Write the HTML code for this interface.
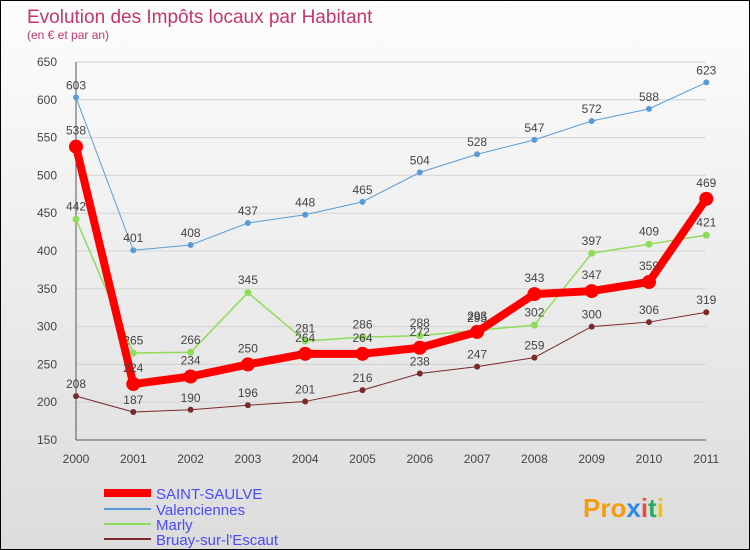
<!DOCTYPE html>
<html><head><meta charset="utf-8"><style>
body{margin:0}
#c{width:750px;height:550px;position:relative;box-sizing:border-box;border:1px solid #000;background:linear-gradient(#fdfdfd,#dcdcdc);font-family:"Liberation Sans",sans-serif;overflow:hidden}
</style></head><body>
<div id="c">
<svg width="750" height="550" id="s">
<text x="26" y="22" font-size="19" fill="#c8356a">Evolution des Impôts locaux par Habitant</text>
<text x="26" y="38" font-size="12" fill="#c8356a">(en € et par an)</text>
<g id="axes"></g><g id="series"></g>
<g>
<line x1="103" y1="492" x2="150" y2="492" stroke="#f00" stroke-width="8"/>
<text x="155" y="498" font-size="15" fill="#4a4aff">SAINT-SAULVE</text>
<line x1="103" y1="508" x2="150" y2="508" stroke="#5a9bd5" stroke-width="2"/>
<text x="155" y="514" font-size="15" fill="#4a4aff">Valenciennes</text>
<line x1="103" y1="523" x2="150" y2="523" stroke="#8fdc5a" stroke-width="2"/>
<text x="155" y="529" font-size="15" fill="#4a4aff">Marly</text>
<line x1="103" y1="538" x2="150" y2="538" stroke="#7a2a2a" stroke-width="2"/>
<text x="155" y="544" font-size="15" fill="#4a4aff">Bruay-sur-l'Escaut</text>
</g>
<text x="582" y="516" font-size="26" font-weight="bold" fill="#f39c12">Pro<tspan fill="#2a8be0">x</tspan><tspan fill="#e74c3c">i</tspan><tspan fill="#27ae60">t</tspan><tspan fill="#f1c40f">i</tspan></text>
</svg></div>
<script>
const years=[2000,2001,2002,2003,2004,2005,2006,2007,2008,2009,2010,2011];
const ticks=[150,200,250,300,350,400,450,500,550,600,650];
const saint=[538,224,234,250,264,264,272,293,343,347,359,469];
const valen=[603,401,408,437,448,465,504,528,547,572,588,623];
const marly=[442,265,266,345,281,286,288,295,302,397,409,421];
const bruay=[208,187,190,196,201,216,238,247,259,300,306,319];
const NS="http://www.w3.org/2000/svg";
const X=i=>75+i*57.3, Y=v=>439-(v-150)*0.756;
function mk(t,a,p){const e=document.createElementNS(NS,t);for(const k in a)e.setAttribute(k,a[k]);p.appendChild(e);return e;}
const ax=document.getElementById('axes'), se=document.getElementById('series');
ticks.forEach(t=>{const l=mk('line',{x1:75,x2:705,y1:Y(t),y2:Y(t),stroke:'#d4d4d4'},ax);


const tx=mk('text',{x:56,y:Y(t)+4,'font-size':12,fill:'#444','text-anchor':'end'},ax);tx.textContent=t;

});
mk('line',{x1:75,x2:75,y1:Y(650),y2:Y(150),stroke:'#555'},ax);
mk('line',{x1:75,x2:705,y1:Y(150),y2:Y(150),stroke:'#555'},ax);
years.forEach((y,i)=>{const tx=mk('text',{x:X(i),y:462,'font-size':12,fill:'#444','text-anchor':'middle'},ax);tx.textContent=y;

});
function draw(d,col,w,r,name,below){
const g=mk('g',{},se);


mk('polyline',{points:d.map((v,i)=>X(i)+','+Y(v)).join(' '),fill:'none',stroke:col,'stroke-width':w,'stroke-linejoin':'round'},g);
d.forEach((v,i)=>{const c=mk('circle',{cx:X(i),cy:Y(v),r:r,fill:col},g);


const b=below&&below[i];
const t=mk('text',{x:X(i),y:b?Y(v)+r+14:Y(v)-r-5,'font-size':12,fill:'#444','text-anchor':'middle'},g);t.textContent=v;

});}
draw(valen,'#5a9bd5',1,3,'valenciennes-series');
draw(marly,'#8fdc5a',1.5,3.5,'marly-series');
draw(bruay,'#7a2a2a',1,3,'bruay-series');
draw(saint,'#f00',8,7,'saint-saulve-series',[0,0,0,0,0,0,0,0,0,0,0,0]);
</script>
</body></html>
